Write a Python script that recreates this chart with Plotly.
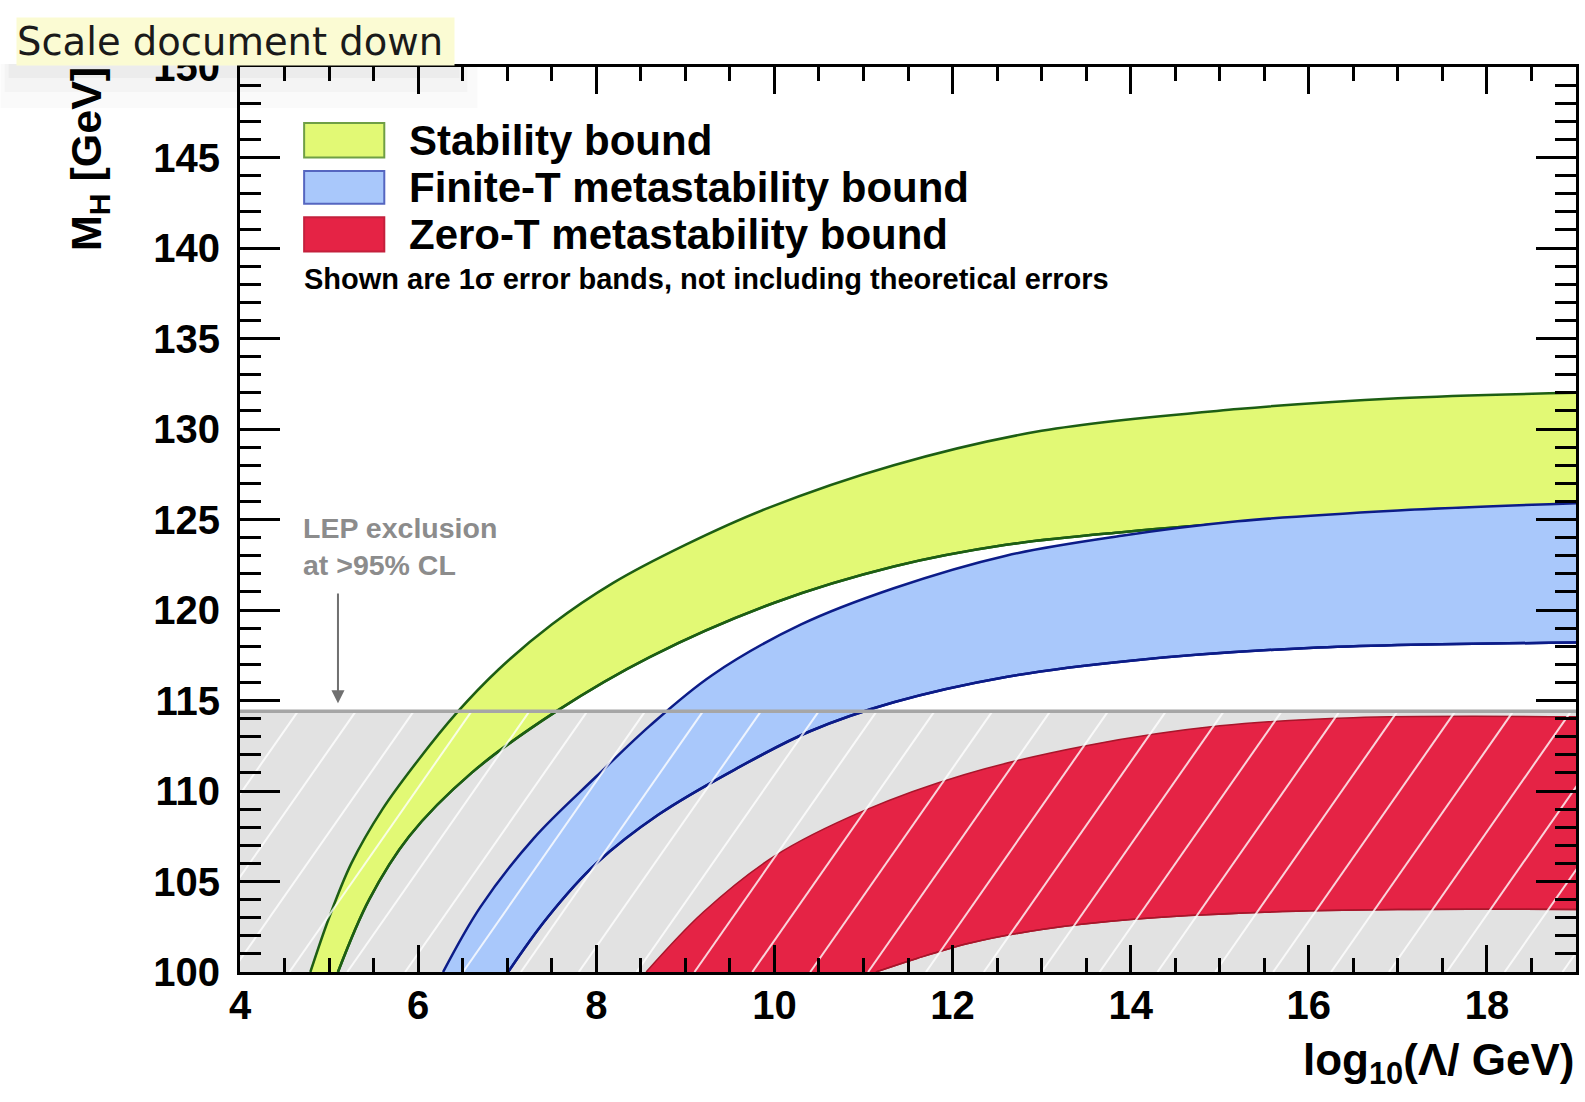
import math
import plotly.graph_objects as go

# ---------------- data ----------------
stab_up_x = [4.79, 5.0, 5.25, 5.6, 6.0, 6.43, 6.9, 7.5, 8.19, 9.0, 9.91, 11.34, 13.0, 15.2, 17.0, 19.0]
stab_up_y = [100.0, 103.0, 106.0, 109.0, 111.7, 114.3, 116.7, 119.2, 121.5, 123.6, 125.6, 128.0, 129.9, 131.1, 131.7, 132.0]
stab_lo_x = [5.10, 5.45, 5.9, 6.6, 7.55, 8.6, 10.0, 11.34, 12.6, 13.9, 15.2, 17.0, 19.0]
stab_lo_y = [100.0, 104.0, 107.5, 111.0, 114.4, 117.4, 120.4, 122.4, 123.6, 124.3, 124.8, 125.05, 125.15]

fin_up_x = [6.28, 6.7, 7.3, 8.0, 8.6, 9.3, 10.3, 11.34, 12.6, 13.9, 15.2, 17.0, 19.0]
fin_up_y = [100.0, 103.6, 107.4, 110.8, 113.6, 116.4, 119.2, 121.2, 123.0, 124.1, 124.9, 125.5, 125.9]
fin_lo_x = [7.01, 7.45, 8.0, 8.7, 9.56, 10.4, 11.34, 12.6, 14.0, 16.0, 19.0]
fin_lo_y = [100.0, 103.0, 106.0, 108.7, 111.2, 113.3, 114.9, 116.3, 117.2, 117.9, 118.2]

zero_up_x = [8.56, 9.2, 10.0, 11.0, 12.13, 13.5, 15.0, 16.5, 19.0]
zero_up_y = [100.0, 103.3, 106.4, 108.9, 110.9, 112.5, 113.6, 114.05, 114.1]
zero_lo_x = [11.14, 11.6, 12.2, 13.0, 14.0, 15.5, 17.0, 19.0]
zero_lo_y = [100.0, 100.75, 101.6, 102.35, 102.9, 103.3, 103.45, 103.45]

x_range = [4, 19]
y_range = [100, 150]
lep_bound = 114.4

legend_labels = ["Stability bound", "Finite-T metastability bound", "Zero-T metastability bound"]
note_text = "Shown are 1\u03c3 error bands, not including theoretical errors"

# ---------------- styles ----------------
FONT = "Liberation Sans"
green_fill, green_edge, green_box = "#e2f975", "#1d5e14", "#6f9f45"
blue_fill, blue_edge, blue_box = "#a9c8fb", "#0c1c88", "#5566c0"
red_fill, red_edge, red_box = "#e52345", "#a8162b", "#c4203c"
gray_fill = "#e2e2e2"

W, H = 1585, 1102
L, R, T, B = 240, 6, 67, 130
pw, ph = W - L - R, H - T - B

fig = go.Figure()

# LEP excluded region (grey background)
fig.add_trace(go.Scatter(x=[x_range[0], x_range[1], x_range[1], x_range[0]],
                         y=[y_range[0], y_range[0], lep_bound, lep_bound],
                         fill="toself", fillcolor=gray_fill, mode="lines",
                         line=dict(width=0), hoverinfo="skip", showlegend=False))

def band(lo_x, lo_y, up_x, up_y, fill, edge, w):
    fig.add_trace(go.Scatter(x=lo_x, y=lo_y, mode="lines",
                             line=dict(color=edge, width=w, shape="spline", smoothing=1.0),
                             hoverinfo="skip", showlegend=False))
    fig.add_trace(go.Scatter(x=up_x, y=up_y, mode="lines", fill="tonexty", fillcolor=fill,
                             line=dict(color=edge, width=w, shape="spline", smoothing=1.0),
                             hoverinfo="skip", showlegend=False))
    fig.add_trace(go.Scatter(x=lo_x, y=lo_y, mode="lines",
                             line=dict(color=edge, width=w, shape="spline", smoothing=1.0),
                             hoverinfo="skip", showlegend=False))

band(stab_lo_x, stab_lo_y, stab_up_x, stab_up_y, green_fill, green_edge, 2.5)
band(fin_lo_x, fin_lo_y, fin_up_x, fin_up_y, blue_fill, blue_edge, 2.5)
band(zero_lo_x, zero_lo_y, zero_up_x, zero_up_y, red_fill, red_edge, 1.5)

# hatching of the LEP excluded region (white lines at ~55 deg, drawn on top)
px_per_x = pw / (x_range[1] - x_range[0])
px_per_y = ph / (y_range[1] - y_range[0])
slope = math.tan(math.radians(55)) * px_per_x / px_per_y      # data-y per data-x
run = (lep_bound - y_range[0]) / slope
step = 58 / px_per_x
hx, hy = [], []
x0 = x_range[0] - run
while x0 < x_range[1]:
    hx += [x0, x0 + run, None]
    hy += [y_range[0], lep_bound, None]
    x0 += step
fig.add_trace(go.Scatter(x=hx, y=hy, mode="lines",
                         line=dict(color="rgba(255,255,255,0.8)", width=2),
                         hoverinfo="skip", showlegend=False))

# LEP bound line
fig.add_trace(go.Scatter(x=x_range, y=[lep_bound, lep_bound], mode="lines",
                         line=dict(color="#a6a6a6", width=3.5), hoverinfo="skip", showlegend=False))

# ---------------- legend (drawn manually) ----------------
legend_rows = [(145.0, 146.9, green_fill, green_box),
               (142.45, 144.25, blue_fill, blue_box),
               (139.8, 141.7, red_fill, red_box)]
shapes = []
annotations = []
for (y0, y1, fc, bc), lab in zip(legend_rows, legend_labels):
    shapes.append(dict(type="rect", xref="x", yref="y", x0=4.72, x1=5.62, y0=y0, y1=y1,
                       fillcolor=fc, line=dict(color=bc, width=2), layer="above"))
    annotations.append(dict(xref="x", yref="y", x=5.88, y=(y0 + y1) / 2, text=lab,
                            showarrow=False, xanchor="left", yanchor="middle",
                            font=dict(family=FONT, size=42, color="black", weight="bold")))
annotations.append(dict(xref="x", yref="y", x=4.70, y=138.3, text=note_text, showarrow=False,
                        xanchor="left", yanchor="middle",
                        font=dict(family=FONT, size=29, color="black", weight="bold")))

# LEP label and arrow
annotations.append(dict(xref="x", yref="y", x=4.68, y=123.5, text="LEP exclusion<br>at &gt;95% CL",
                        showarrow=False, xanchor="left", yanchor="middle", align="left",
                        font=dict(family=FONT, size=28.5, color="#8c8c8c", weight="bold")))
annotations.append(dict(xref="x", yref="y", x=5.10, y=114.85, ax=5.10, ay=121.0,
                        axref="x", ayref="y", text="", showarrow=True,
                        arrowhead=2, arrowsize=1.3, arrowwidth=2, arrowcolor="#707070", standoff=0))

# axis titles
annotations.append(dict(xref="paper", yref="paper", x=1.0, y=-0.1006,
                        text="log<sub>10</sub>(\u039b/ GeV)", showarrow=False,
                        xanchor="right", yanchor="middle",
                        font=dict(family=FONT, size=44, color="black", weight="bold")))
annotations.append(dict(xref="paper", yref="paper", x=-0.113, y=0.7945,
                        text="M<sub>H</sub> [GeV]", showarrow=False, textangle=-90,
                        xanchor="center", yanchor="bottom",
                        font=dict(family=FONT, size=43, color="black", weight="bold")))

# browser tooltip overlay present in the screenshot
def px(x):
    return (x - L) / pw
def py(y):
    return (H - B - y) / ph

for (x0s, x1s, y0s, y1s, a) in [(0, 478, 64, 108, 0.02), (4, 468, 64, 92, 0.025), (8, 460, 64, 78, 0.03)]:
    shapes.append(dict(type="rect", xref="paper", yref="paper", x0=px(x0s), x1=px(x1s),
                       y0=py(y1s), y1=py(y0s), fillcolor=f"rgba(0,0,0,{a})",
                       line=dict(width=0), layer="above"))
annotations.append(dict(xref="paper", yref="paper", x=px(15), y=py(41.5), text="Scale document down",
                        showarrow=False, xanchor="left", yanchor="middle", align="left",
                        width=437, height=47, borderpad=0, bgcolor="#fbfbd3",
                        font=dict(family="DejaVu Sans", size=38.5, color="#1a1a1a")))

axis_common = dict(showgrid=False, zeroline=False, showline=True, linecolor="black", linewidth=3,
                   mirror="allticks", ticks="inside", tickcolor="black", tickwidth=3,
                   tickfont=dict(family=FONT, size=40, color="black", weight="bold"))

fig.update_layout(
    width=W, height=H,
    margin=dict(l=L, r=R, t=T, b=B),
    paper_bgcolor="white", plot_bgcolor="white",
    showlegend=False,
    shapes=shapes, annotations=annotations,
    xaxis=dict(range=x_range, dtick=2, ticklen=27,
               minor=dict(dtick=0.5, ticklen=14, tickwidth=3, tickcolor="black", ticks="inside"),
               ticklabelstandoff=-4, **axis_common),
    yaxis=dict(range=y_range, dtick=5, ticklen=40,
               minor=dict(dtick=1, ticklen=21, tickwidth=3, tickcolor="black", ticks="inside"),
               ticklabelstandoff=9, **axis_common),
)

fig.write_html("out.html", config={"displayModeBar": False},
               post_script="document.body.style.margin='0px';document.body.style.overflow='hidden';")
